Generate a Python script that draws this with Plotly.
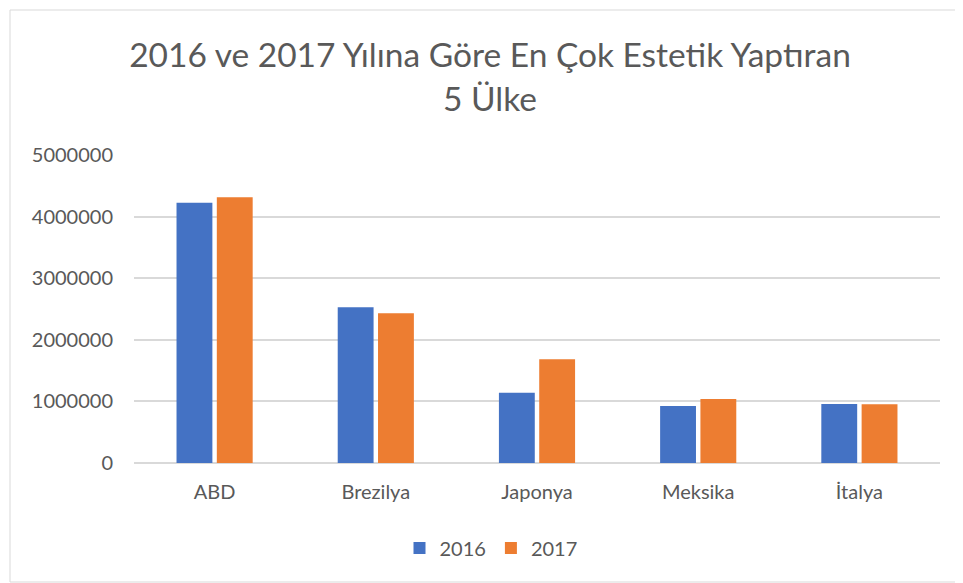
import plotly.graph_objects as go

categories = ["ABD", "Brezilya", "Japonya", "Meksika", "İtalya"]
values_2016 = [4226000, 2527000, 1141000, 925000, 958000]
values_2017 = [4313000, 2430000, 1683000, 1039000, 953000]
tick_vals = [0, 1000000, 2000000, 3000000, 4000000, 5000000]
tick_text = ["0", "1000000", "2000000", "3000000", "4000000", "5000000"]

FONT = "Lato"
TXT = "#595959"

fig = go.Figure()
fig.add_trace(go.Bar(name="2016", x=categories, y=values_2016, marker=dict(color="#4472C4", line=dict(width=0))))
fig.add_trace(go.Bar(name="2017", x=categories, y=values_2017, marker=dict(color="#ED7D31", line=dict(width=0))))

OFF = 8  # browser default body margin
W, H = 963 - OFF, 583 - OFF
L, T = 134 - OFF, 155 - OFF
pw, ph = 806, 308
R, B = W - L - pw, H - T - ph

def px2paper_x(x):
    return (x - OFF - L) / pw

def px2paper_y(y):
    return (T + ph - (y - OFF)) / ph

fig.update_layout(
    width=W, height=H,
    margin=dict(l=L, r=R, t=T, b=B, autoexpand=False),
    paper_bgcolor="white", plot_bgcolor="white",
    barmode="group", bargap=0.5, bargroupgap=0.11,
    font=dict(family=FONT, color=TXT, size=20),
    title=dict(
        text="2016 ve 2017 Yılına Göre En Çok Estetik Yaptıran<br>5 Ülke",
        x=(490 - OFF) / W, xanchor="center", y=1 - (67 - OFF) / H, yanchor="top",
        font=dict(family=FONT, size=33.5, color=TXT),
    ),
    xaxis=dict(showgrid=False, showline=False, ticks="", ticklabelstandoff=15,
               tickfont=dict(size=20, color=TXT)),
    yaxis=dict(range=[0, 5000000], tickvals=tick_vals, ticktext=tick_text,
               showgrid=True, gridcolor="#D9D9D9", gridwidth=1.5,
               zeroline=True, zerolinecolor="#D9D9D9", zerolinewidth=1.5,
               showline=False, ticks="", ticklabelstandoff=20,
               tickfont=dict(size=20, color=TXT)),
    legend=dict(orientation="h", x=px2paper_x(491), xanchor="center", y=px2paper_y(548), yanchor="middle",
                font=dict(size=20, color=TXT), itemwidth=30, traceorder="normal"),
    shapes=[dict(type="rect", xref="paper", yref="paper",
                 x0=px2paper_x(10), x1=px2paper_x(961), y0=px2paper_y(582), y1=px2paper_y(10),
                 line=dict(color="#D9D9D9", width=1), layer="below")],
)

fig.write_html("out.html")
